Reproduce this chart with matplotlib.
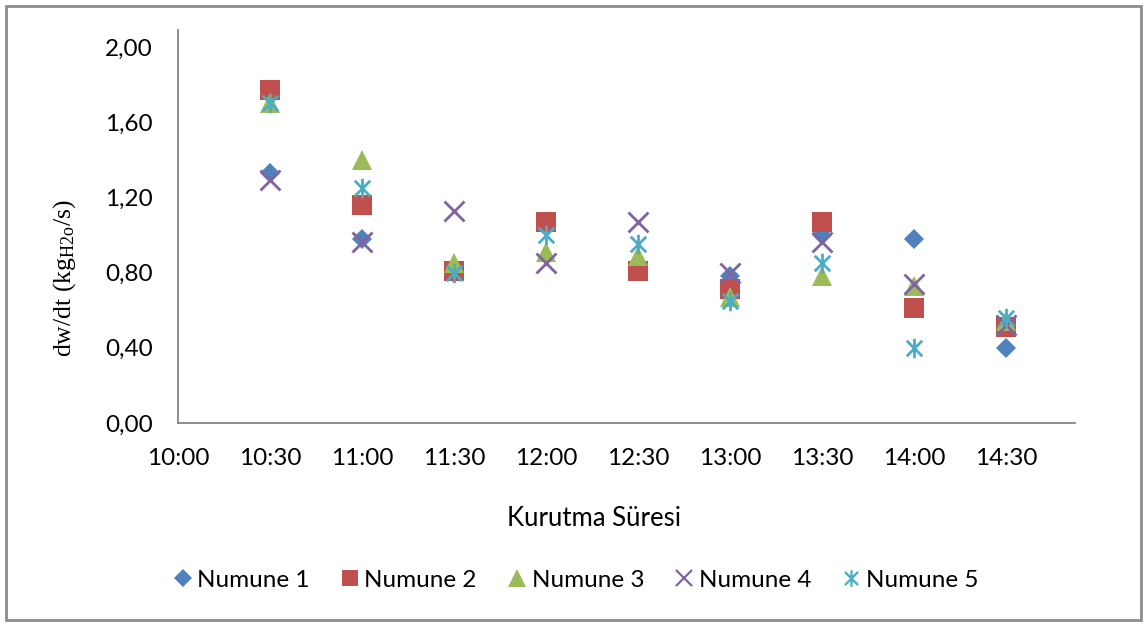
import numpy as np
import matplotlib
matplotlib.use("Agg")
import matplotlib.pyplot as plt
from matplotlib.path import Path
from matplotlib.patches import Rectangle
from matplotlib.lines import Line2D

plt.rcParams['font.family'] = ['Lato', 'DejaVu Sans']
plt.rcParams['mathtext.fontset'] = 'custom'
plt.rcParams['mathtext.rm'] = 'Liberation Serif'
plt.rcParams['mathtext.it'] = 'Liberation Serif:italic'

# drying time, minutes after 10:00
times = [30, 60, 90, 120, 150, 180, 210, 240, 270]
tick_minutes = [0, 30, 60, 90, 120, 150, 180, 210, 240, 270]
tick_labels = ["10:00", "10:30", "11:00", "11:30", "12:00",
               "12:30", "13:00", "13:30", "14:00", "14:30"]
y_ticks = [0.0, 0.4, 0.8, 1.2, 1.6, 2.0]

numune_1 = [1.33, 0.98, 0.80, 1.06, 0.81, 0.78, 1.00, 0.98, 0.40]
numune_2 = [1.77, 1.16, 0.81, 1.07, 0.81, 0.71, 1.07, 0.61, 0.51]
numune_3 = [1.70, 1.40, 0.85, 0.91, 0.89, 0.67, 0.78, 0.73, 0.54]
numune_4 = [1.29, 0.96, 1.13, 0.85, 1.07, 0.80, 0.96, 0.74, 0.52]
numune_5 = [1.70, 1.25, 0.80, 1.00, 0.95, 0.65, 0.85, 0.40, 0.56]

series_names = ["Numune 1", "Numune 2", "Numune 3", "Numune 4", "Numune 5"]

# asterisk marker: an x with a vertical bar through it
star_path = Path(
    [(-1, -1), (1, 1), (-1, 1), (1, -1), (0, -1.25), (0, 1.25)],
    [Path.MOVETO, Path.LINETO, Path.MOVETO, Path.LINETO, Path.MOVETO, Path.LINETO],
)

styles = [
    dict(marker='D', color='#4F81BD', ms=10.5, mew=0),
    dict(marker='s', color='#C0504D', ms=14, mew=0),
    dict(marker='^', color='#9BBB59', ms=15, mew=0),
    dict(marker='x', color='#8064A2', ms=14, mew=2),
    dict(marker=star_path, color='#4BACC6', ms=14, mew=2),
]

fig = plt.figure(figsize=(11.48, 6.25), dpi=100)
ax = fig.add_axes([0.155, 0.3232, 0.7817, 0.6288])

for vals, name, st in zip([numune_1, numune_2, numune_3, numune_4, numune_5],
                          series_names, styles):
    ax.plot(times, vals, linestyle='none', label=name, marker=st['marker'],
            color=st['color'], markersize=st['ms'], markeredgewidth=st['mew'],
            markeredgecolor=st['color'])

ax.set_xlim(0, 292.5)
ax.set_ylim(0, 2.09)
ax.set_xticks(tick_minutes)
ax.set_xticklabels(tick_labels)
ax.set_yticks(y_ticks)
ax.set_yticklabels([f"{v:.2f}".replace('.', ',') for v in y_ticks])
ax.tick_params(length=0, labelsize=17.5, colors='black')
ax.tick_params(axis='y', pad=18)
ax.tick_params(axis='x', pad=18)
for side in ['top', 'right']:
    ax.spines[side].set_visible(False)
for side in ['left', 'bottom']:
    ax.spines[side].set_color('#868686')
    ax.spines[side].set_linewidth(1.3)

fig.text(65 / 1148, 1 - 278 / 625, r"dw/dt (kg$_{\mathrm{H2o}}$/s)",
         rotation=90, ha='center', va='center', fontsize=18.5,
         family='Liberation Serif')
fig.text(594 / 1148, 1 - 519 / 625, "Kurutma Süresi",
         ha='center', va='center', fontsize=18.5)

handles = [Line2D([], [], linestyle='none', marker=st['marker'], color=st['color'],
                  markersize=st['ms'] * 0.85, markeredgewidth=st['mew'] * 0.8,
                  markeredgecolor=st['color'])
           for st in styles]
fig.legend(handles, series_names, loc='center', bbox_to_anchor=(577 / 1148, 1 - 580 / 625),
           ncol=5, frameon=False, fontsize=17.5, handlelength=0.6,
           handletextpad=0.3, columnspacing=1.35)

# chart area border
fig.patches.append(Rectangle((6 / 1148, 5 / 625), 1135 / 1148, 614 / 625,
                             transform=fig.transFigure, fill=False,
                             edgecolor='#8c8c8c', linewidth=2))

fig.savefig("out.png", dpi=100)
